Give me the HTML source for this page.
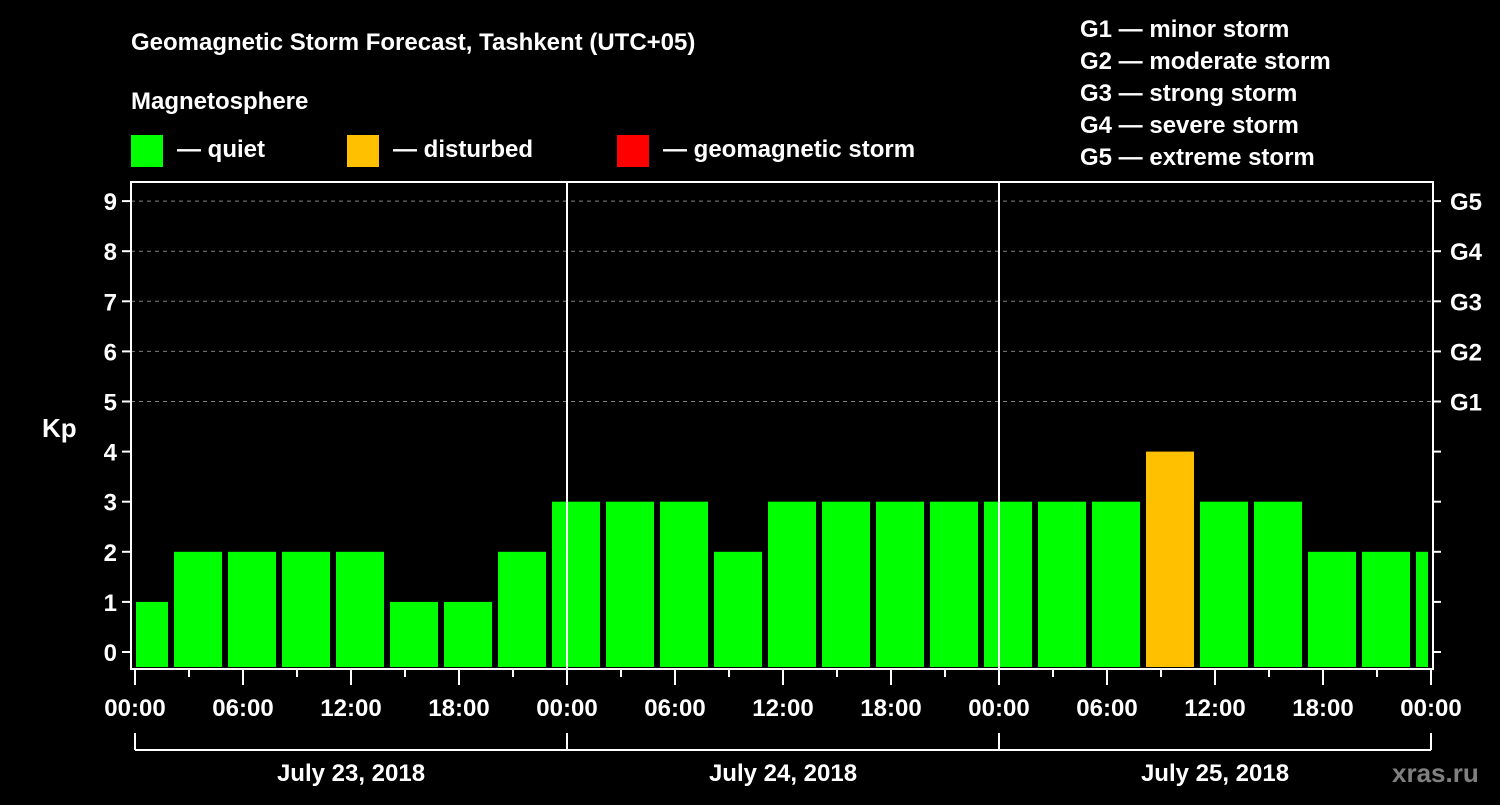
<!DOCTYPE html>
<html><head><meta charset="utf-8"><style>
body{margin:0;background:#000;width:1500px;height:800px;overflow:hidden}
svg text{font-family:"Liberation Sans",sans-serif;font-weight:bold;fill:#fff}
</style></head><body>
<svg id="chart" width="1500" height="800" xmlns="http://www.w3.org/2000/svg">
<rect width="1500" height="800" fill="#000"/>
<text x="131" y="50" font-size="24">Geomagnetic Storm Forecast, Tashkent (UTC+05)</text>
<text x="131" y="109" font-size="24">Magnetosphere</text>
<g><rect x="131" y="135" width="32" height="32" fill="#00ff00"/><text x="177" y="157" font-size="24">— quiet</text></g>
<g><rect x="347" y="135" width="32" height="32" fill="#ffc000"/><text x="393" y="157" font-size="24">— disturbed</text></g>
<g><rect x="617" y="135" width="32" height="32" fill="#ff0000"/><text x="663" y="157" font-size="24">— geomagnetic storm</text></g>
<g font-size="24">
<text x="1080" y="37">G1 — minor storm</text>
<text x="1080" y="69">G2 — moderate storm</text>
<text x="1080" y="101">G3 — strong storm</text>
<text x="1080" y="133">G4 — severe storm</text>
<text x="1080" y="165">G5 — extreme storm</text>
</g>
<text x="42" y="437" font-size="26">Kp</text>
<g id="grid"></g>
<g id="bars"></g>
<g id="axes"></g>
<text x="1392" y="782" font-size="26" style="fill:#808080">xras.ru</text>
</svg>
<script>
const kpValues=[1,2,2,2,2,1,1,2,3,3,3,2,3,3,3,3,3,3,3,4,3,3,2,2,2];
const dayLabels=["July 23, 2018","July 24, 2018","July 25, 2018"];
const yTicks=[0,1,2,3,4,5,6,7,8,9];
const gLabels=["G1","G2","G3","G4","G5"];
const xTickLabels=["00:00","06:00","12:00","18:00","00:00","06:00","12:00","18:00","00:00","06:00","12:00","18:00","00:00"];
const NS="http://www.w3.org/2000/svg";
const L=131,R=1433,T=182,B=669,X0=135,PXH=18;
const x=h=>X0+h*PXH;
const y=v=>652-v*50.1;
function mk(tag,attrs,parent){const e=document.createElementNS(NS,tag);for(const k in attrs)e.setAttribute(k,attrs[k]);parent.appendChild(e);return e;}
const grid=document.getElementById('grid'),bars=document.getElementById('bars'),axes=document.getElementById('axes');
for(let v=5;v<=9;v++){const l=mk('line',{x1:L,x2:R,y1:y(v),y2:y(v),stroke:'#808080','stroke-dasharray':'4,4','stroke-width':1},grid);

}
kpValues.forEach((v,i)=>{
 const h0=3*i-0.833;let x1=Math.max(x(h0),L+5),x2=Math.min(x(h0+2.667),R-5);
 const c=v>=5?'#ff0000':(v>=4?'#ffc000':'#00ff00');
 const r=mk('rect',{x:x1,y:y(v),width:x2-x1,height:667-y(v),fill:c},bars);
 
 
});
const frame=mk('rect',{x:L,y:T,width:R-L,height:B-T,fill:'none',stroke:'#fff','stroke-width':2},axes);


[1,2].forEach(d=>{const l=mk('line',{x1:x(24*d),x2:x(24*d),y1:T,y2:B,stroke:'#fff','stroke-width':2},axes);

});
yTicks.forEach(v=>{
 mk('line',{x1:L-9,x2:L,y1:y(v),y2:y(v),stroke:'#fff','stroke-width':2},axes);
 mk('line',{x1:R,x2:R+8,y1:y(v),y2:y(v),stroke:'#fff','stroke-width':2},axes);
 const t=mk('text',{x:L-14,y:y(v)+9,'font-size':24,'text-anchor':'end'},axes);t.textContent=v;
 
 
});
gLabels.forEach((g,i)=>{const t=mk('text',{x:1450,y:y(5+i)+9,'font-size':24},axes);t.textContent=g;

});
for(let h=0;h<=72;h+=3){const long=h%6===0;mk('line',{x1:x(h),x2:x(h),y1:B,y2:B+(long?16:8),stroke:'#fff','stroke-width':2},axes);}
xTickLabels.forEach((s,i)=>{const t=mk('text',{x:x(6*i),y:716,'font-size':24,'text-anchor':'middle'},axes);t.textContent=s;

});
mk('line',{x1:x(0),x2:x(72),y1:750,y2:750,stroke:'#fff','stroke-width':2},axes);
for(let d=0;d<=3;d++)mk('line',{x1:x(24*d),x2:x(24*d),y1:733,y2:750,stroke:'#fff','stroke-width':2},axes);
dayLabels.forEach((s,i)=>{const t=mk('text',{x:x(24*i+12),y:781,'font-size':24,'text-anchor':'middle'},axes);t.textContent=s;

});
</script>
</body></html>
